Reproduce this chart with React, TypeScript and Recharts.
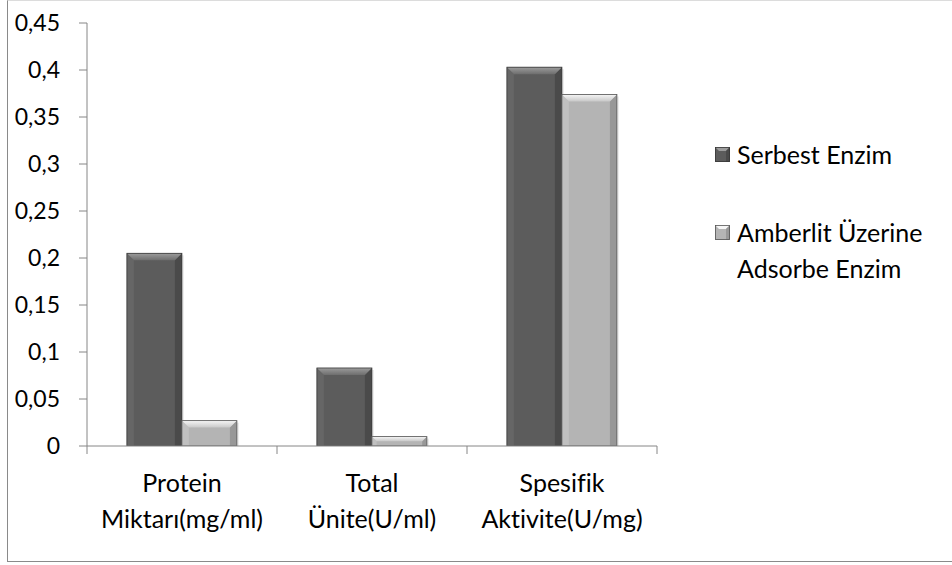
import React from 'react';
import { BarChart, Bar, XAxis, YAxis, Legend } from 'recharts';

const categories = ['Protein Miktarı(mg/ml)', 'Total Ünite(U/ml)', 'Spesifik Aktivite(U/mg)'];
const serbestValues = [0.205, 0.083, 0.403];
const amberlitValues = [0.027, 0.01, 0.374];
const yTicks = [0, 0.05, 0.1, 0.15, 0.2, 0.25, 0.3, 0.35, 0.4, 0.45];

const seriesNames = {
  serbest: 'Serbest Enzim',
  amberlit: 'Amberlit Üzerine Adsorbe Enzim',
};

const data = categories.map((name, i) => ({
  name,
  serbest: serbestValues[i],
  amberlit: amberlitValues[i],
}));

const W = 952;
const H = 565;
const X_AXIS_H = 30;
const margin = { top: 23, right: 295, bottom: 119 - X_AXIS_H, left: 0 };
const Y_AXIS_W = 87;
const BAND = (W - margin.right - Y_AXIS_W) / categories.length;
const FONT = 'Lato, "Open Sans", sans-serif';
const AXIS_COLOR = '#868686';
const noLig = { fontVariantLigatures: 'none' } as React.CSSProperties;

const palette: Record<string, { base: string; topA: string; topB: string; left: string; right: string; stroke: string }> = {
  serbest: { base: '#5c5c5c', topA: '#9c9c9c', topB: '#6e6e6e', left: '#666666', right: '#4a4a4a', stroke: '#383838' },
  amberlit: { base: '#b4b4b4', topA: '#f6f6f6', topB: '#c8c8c8', left: '#c0c0c0', right: '#989898', stroke: '#555555' },
};

// bar with an Excel-like bevel: light top facet, shaded side strips
const BevelBar = (props: any) => {
  const { x, y, width, height, dataKey } = props;
  if (!height || height <= 0) return null;
  const c = palette[dataKey];
  const b = Math.min(7, height / 2, width / 2);
  const gid = `top-${dataKey}`;
  return (
    <g>
      <defs>
        <linearGradient id={gid} x1="0" y1="0" x2="0" y2="1">
          <stop offset="0%" stopColor={c.topA} />
          <stop offset="100%" stopColor={c.topB} />
        </linearGradient>
      </defs>
      <rect x={x + 2} y={y + 2} width={width} height={height - 2} fill="#000" opacity={0.08} />
      <rect x={x} y={y} width={width} height={height} fill={c.base} />
      <polygon points={`${x},${y} ${x + b},${y + b} ${x + b},${y + height} ${x},${y + height}`} fill={c.left} />
      <polygon points={`${x + width},${y} ${x + width - b},${y + b} ${x + width - b},${y + height} ${x + width},${y + height}`} fill={c.right} />
      <polygon points={`${x},${y} ${x + width},${y} ${x + width - b},${y + b} ${x + b},${y + b}`} fill={`url(#${gid})`} />
      <rect x={x} y={y} width={width} height={height} fill="none" stroke={c.stroke} strokeWidth={0.8} />
    </g>
  );
};

const CategoryTick = (props: any) => {
  const { x, y, payload, index } = props;
  const text: string = payload.value;
  const cut = text.indexOf(' ');
  const lines = [text.slice(0, cut), text.slice(cut + 1)];
  const left = x - BAND / 2;
  return (
    <g>
      <line x1={left} y1={y} x2={left} y2={y + 8} stroke={AXIS_COLOR} />
      {index === categories.length - 1 && (
        <line x1={left + BAND} y1={y} x2={left + BAND} y2={y + 8} stroke={AXIS_COLOR} />
      )}
      {lines.map((l, i) => (
        <text key={i} x={x} y={y + 36 + i * 36} textAnchor="middle" dominantBaseline="central"
          fontFamily={FONT} fontSize={25} fill="#000" style={noLig}>
          {l}
        </text>
      ))}
    </g>
  );
};

const LegendSwatch = ({ k }: { k: string }) => {
  const c = palette[k];
  return (
    <svg width={15} height={15} style={{ flex: 'none', marginTop: 11 }}>
      <rect x={0} y={0} width={15} height={15} fill={c.base} />
      <polygon points="0,0 15,0 11,4 4,4" fill={c.topA} />
      <polygon points="15,0 11,4 11,15 15,15" fill={c.right} />
      <rect x={0.5} y={0.5} width={14} height={14} fill="none" stroke={c.stroke} strokeWidth={0.8} />
    </svg>
  );
};

const SideLegend = () => (
  <div style={{ fontFamily: FONT, fontSize: 25, color: '#000', lineHeight: '36px', ...noLig }}>
    {(['serbest', 'amberlit'] as const).map((k, i) => (
      <div key={k} style={{ display: 'flex', gap: 7, alignItems: 'flex-start', marginTop: i === 0 ? 0 : 42 }}>
        <LegendSwatch k={k} />
        <span style={{ width: 205 }}>{seriesNames[k]}</span>
      </div>
    ))}
  </div>
);

export default function App() {
  return (
    <div style={{ position: 'fixed', left: 0, top: 0, width: W, height: H, overflow: 'hidden', background: '#fff' }}>
      <div style={{ position: 'absolute', left: 7, top: 0, width: W + 20, height: 560, border: '1px solid #8a8a8a', borderTopColor: '#dcdcdc' }} />
      <BarChart width={W} height={H} data={data} margin={margin} barCategoryGap="21%" barGap={0}>
        <XAxis dataKey="name" height={X_AXIS_H} tick={<CategoryTick />} tickLine={false} tickSize={0} tickMargin={0}
          axisLine={{ stroke: AXIS_COLOR }} interval={0} />
        <YAxis domain={[0, 0.45]} ticks={yTicks} width={Y_AXIS_W} tickSize={8} tickMargin={19}
          axisLine={{ stroke: AXIS_COLOR }} tickLine={{ stroke: AXIS_COLOR }}
          tick={{ fontFamily: FONT, fontSize: 23, fill: '#000' }}
          tickFormatter={(v: number) => String(v).replace('.', ',')} allowDataOverflow />
        <Legend layout="horizontal" verticalAlign="middle" align="center" content={<SideLegend />}
          wrapperStyle={{ left: 715, top: 136, width: 236 }} />
        <Bar dataKey="serbest" name={seriesNames.serbest} shape={<BevelBar />} isAnimationActive={false} />
        <Bar dataKey="amberlit" name={seriesNames.amberlit} shape={<BevelBar />} isAnimationActive={false} />
      </BarChart>
    </div>
  );
}
